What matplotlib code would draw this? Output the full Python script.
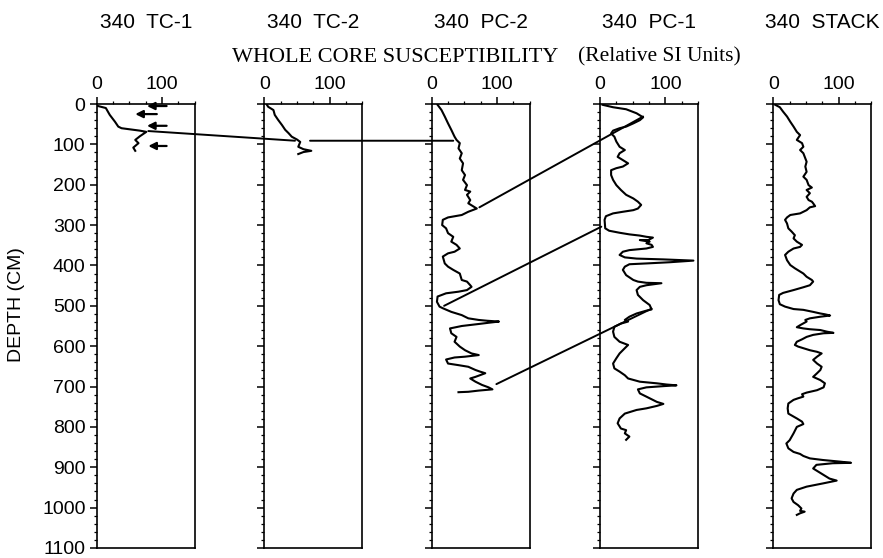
import matplotlib.pyplot as plt
from matplotlib.patches import ConnectionPatch
from matplotlib.ticker import MultipleLocator

plt.rcParams['font.family'] = ['Liberation Sans', 'DejaVu Sans']

core_names = ['340  TC-1', '340  TC-2', '340  PC-2', '340  PC-1', '340  STACK']

# whole core susceptibility vs depth (cm)
tc1_depth = [5, 10, 27, 44, 56, 60, 66, 69, 80, 89, 97, 108, 116]
tc1_val = [2, 14, 20, 28, 33, 38, 66, 76, 66, 59, 64, 56, 59]

tc2_depth = [2, 7, 15, 27, 39, 52, 64, 72, 81, 88, 94, 106, 112, 116, 119, 124]
tc2_val = [4, 6, 14, 16, 21, 27, 32, 37, 42, 50, 55, 52, 60, 72, 60, 52]

pc2_depth = [2, 15, 31, 48, 64, 81, 89, 97, 110, 122, 135, 147, 164, 176, 188,
             201, 213, 217, 225, 238, 246, 254, 259, 267, 275, 281, 287, 300,
             308, 320, 329, 341, 349, 358, 366, 370, 378, 395, 403, 411, 420,
             436, 440, 449, 453, 461, 465, 469, 477, 490, 502, 506, 515, 523,
             531, 535, 537, 539, 542, 545, 550, 556, 568, 577, 589, 601, 610,
             618, 622, 626, 628, 633, 643, 647, 651, 659, 663, 667, 676, 680,
             688, 696, 702, 707, 710, 713, 714]
pc2_val = [9, 15, 20, 25, 30, 35, 38, 43, 41, 46, 43, 48, 46, 51, 48,
           54, 51, 59, 54, 59, 56, 64, 69, 56, 46, 25, 17, 16,
           22, 25, 33, 30, 38, 43, 35, 25, 17, 20, 25, 33, 43,
           46, 54, 59, 61, 54, 41, 22, 9, 8, 12, 17, 30, 46,
           56, 72, 85, 103, 87, 72, 46, 28, 30, 38, 35, 43, 51,
           61, 72, 51, 35, 22, 25, 41, 56, 67, 74, 82, 67, 59,
           67, 77, 87, 93, 72, 56, 41]

pc1_depth = [2, 8, 13, 23, 33, 40, 48, 56, 60, 66, 73, 81, 93, 106, 114, 122,
             131, 139, 147, 155, 159, 164, 176, 188, 201, 213, 225, 234, 242,
             250, 259, 263, 267, 271, 278, 287, 308, 314, 319, 323, 326, 329,
             331, 337, 337, 341, 345, 349, 354, 358, 362, 366, 374, 380, 383,
             385, 388, 392, 395, 397, 403, 411, 424, 436, 440, 443, 444, 449,
             453, 461, 473, 486, 498, 509, 512, 519, 527, 535, 539, 544, 552,
             564, 577, 589, 597, 605, 618, 630, 643, 655, 663, 672, 680, 688,
             692, 695, 697, 699, 702, 707, 717, 725, 738, 743, 748, 754, 758,
             767, 779, 791, 804, 808, 816, 824, 832]
pc1_val = [4, 20, 40, 56, 66, 61, 51, 40, 30, 20, 17, 22, 25, 30, 38, 30,
           27, 35, 43, 35, 25, 17, 17, 20, 25, 32, 40, 51, 58,
           63, 58, 51, 35, 20, 9, 7, 8, 14, 30, 45, 61, 71,
           81, 74, 61, 76, 71, 79, 81, 71, 45, 35, 30, 38, 56,
           97, 143, 107, 71, 45, 38, 35, 40, 51, 58, 71, 94, 71,
           61, 56, 58, 66, 76, 79, 71, 56, 45, 38, 43, 32, 22,
           20, 22, 30, 43, 38, 30, 25, 20, 22, 30, 38, 43, 61,
           87, 102, 117, 97, 71, 58, 61, 71, 87, 97, 87, 71, 56,
           38, 30, 27, 32, 40, 38, 45, 40]

stack_depth = [2, 8, 19, 31, 44, 56, 69, 77, 89, 97, 106, 114, 122, 135, 143,
               155, 168, 180, 188, 201, 207, 213, 221, 230, 238, 242, 246, 253,
               256, 263, 271, 275, 281, 287, 296, 308, 316, 325, 333, 341, 349,
               354, 358, 366, 374, 387, 399, 407, 415, 420, 428, 436, 440, 449,
               454, 461, 468, 473, 486, 496, 502, 508, 510, 515, 519, 521, 524,
               527, 531, 535, 539, 548, 553, 556, 558, 560, 564, 567, 568, 572,
               577, 583, 589, 597, 601, 605, 610, 614, 618, 626, 634, 643, 651,
               659, 667, 676, 684, 692, 702, 709, 715, 719, 725, 729, 733, 742,
               754, 767, 779, 787, 793, 800, 816, 833, 841, 853, 862, 867, 872,
               878, 882, 886, 889, 890, 894, 903, 911, 923, 928, 933, 940, 948,
               956, 965, 977, 986, 994, 1002, 1008, 1010, 1014, 1018]
stack_val = [3, 10, 15, 21, 26, 31, 36, 41, 36, 44, 46, 41, 46, 49, 51,
             49, 51, 46, 51, 54, 59, 51, 56, 51, 54, 59, 61, 64,
             56, 51, 41, 26, 21, 18, 21, 23, 28, 33, 31, 36, 44,
             41, 31, 23, 18, 21, 26, 33, 41, 46, 51, 59, 61, 56,
             46, 31, 15, 9, 8, 10, 18, 31, 46, 61, 72, 79, 87,
             72, 56, 49, 51, 41, 36, 46, 56, 72, 82, 92, 77, 61,
             51, 44, 36, 33, 38, 46, 56, 67, 74, 67, 61, 67, 74,
             72, 67, 61, 72, 79, 77, 67, 51, 44, 46, 38, 31, 23,
             22, 23, 36, 44, 46, 36, 31, 25, 20, 23, 31, 41, 46,
             56, 76, 102, 119, 91, 66, 61, 69, 81, 86, 97, 76, 51,
             36, 31, 28, 31, 38, 43, 41, 48, 41, 36]

depths = [tc1_depth, tc2_depth, pc2_depth, pc1_depth, stack_depth]
vals = [tc1_val, tc2_val, pc2_val, pc1_val, stack_val]

# arrows in TC-1 (depth, head value, tail value)
arrow_depth = [5, 25, 54, 104]
arrow_head = [77, 59, 77, 79]
arrow_tail = [107, 92, 107, 107]

# correlation tie lines: (core index, value, depth) -> (core index, value, depth)
tie_from_core = [0, 1, 2, 2, 2]
tie_from_val = [79, 70, 73, 19, 99]
tie_from_depth = [67, 91, 256, 500, 694]
tie_to_core = [1, 2, 3, 3, 3]
tie_to_val = [47, 33, 66, 2, 79]
tie_to_depth = [91, 91, 31, 304, 507]

W, H = 883, 558
fig = plt.figure(figsize=(W / 100, H / 100), dpi=100)

panel_left = [96.7, 264.3, 431.7, 600, 773.3]
panel_w = 98
top_px, bot_px = 104, 548

axes = []
for i, name in enumerate(core_names):
    ax = fig.add_axes([panel_left[i] / W, 1 - bot_px / H, panel_w / W, (bot_px - top_px) / H])
    ax.plot(vals[i], depths[i], color='k', lw=1.5)
    ax.set_xlim(0, 150)
    ax.set_ylim(1100, 0)
    ax.xaxis.tick_top()
    ax.set_xticks([0, 100])
    ax.xaxis.set_minor_locator(MultipleLocator(25))
    ax.yaxis.set_major_locator(MultipleLocator(100))
    ax.yaxis.set_minor_locator(MultipleLocator(20))
    ax.tick_params(which='major', direction='out', length=5, width=1.1, labelsize=14, pad=3)
    ax.tick_params(which='minor', direction='out', length=2.5, width=0.9)
    if i > 0:
        ax.tick_params(axis='y', which='both', labelleft=False)
    for s in ax.spines.values():
        s.set_linewidth(1.2)
    ax.text(0.5, 1 + (top_px - 22) / (bot_px - top_px), name, transform=ax.transAxes,
            ha='center', va='center', fontsize=15)
    axes.append(ax)

for d, h, t in zip(arrow_depth, arrow_head, arrow_tail):
    axes[0].annotate('', xy=(h, d), xytext=(t, d),
                     arrowprops=dict(arrowstyle='-|>', color='k', lw=1.6, mutation_scale=11,
                                     shrinkA=0, shrinkB=0), annotation_clip=False)

for a, xa, da, b, xb, db in zip(tie_from_core, tie_from_val, tie_from_depth,
                                tie_to_core, tie_to_val, tie_to_depth):
    con = ConnectionPatch(xyA=(xa, da), coordsA=axes[a].transData,
                          xyB=(xb, db), coordsB=axes[b].transData,
                          color='k', lw=1.4)
    fig.add_artist(con)

fig.text(232 / W, 1 - 57 / H, 'WHOLE CORE SUSCEPTIBILITY', family='Liberation Serif',
         fontsize=16, ha='left', va='center')
fig.text(578 / W, 1 - 57 / H, '(Relative SI Units)', family='Liberation Serif',
         fontsize=15.5, ha='left', va='center')
fig.text(17 / W, 1 - 305 / H, 'DEPTH (CM)', rotation=90, ha='center', va='center', fontsize=14)

fig.savefig('out.png', dpi=100)
